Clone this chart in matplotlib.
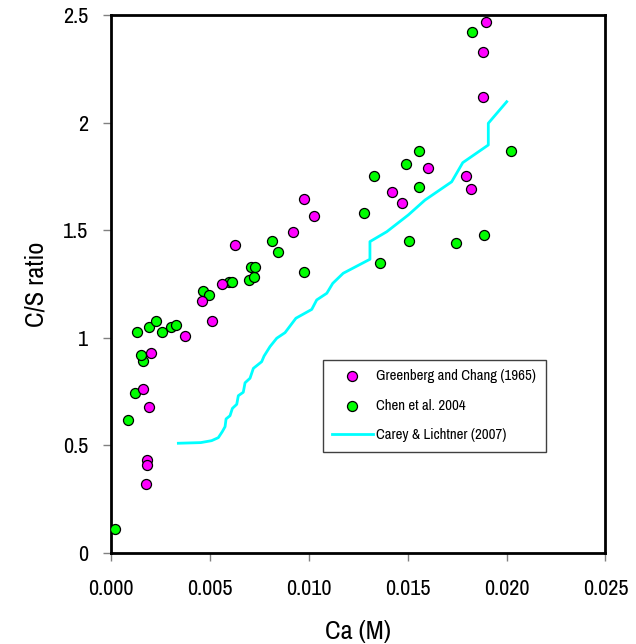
import matplotlib
matplotlib.use("Agg")
import matplotlib.pyplot as plt
from matplotlib.ticker import FixedLocator, FormatStrFormatter

plt.rcParams['font.family'] = ['Liberation Sans Narrow', 'Archivo Narrow', 'Liberation Sans', 'DejaVu Sans']

# ---------------------------------------------
# Data
# ---------------------------------------------
# Greenberg and Chang (1965)
greenberg_ca = [0.00163, 0.00192, 0.00205, 0.00185, 0.00185, 0.00178, 0.00377, 0.0051,
                0.0046, 0.00561, 0.0063, 0.0092, 0.00977, 0.01027, 0.01423, 0.01472,
                0.01605, 0.01797, 0.01819, 0.01881, 0.01883, 0.01897]
greenberg_cs = [0.762, 0.677, 0.931, 0.431, 0.41, 0.32, 1.01, 1.079,
                1.171, 1.248, 1.431, 1.492, 1.646, 1.567, 1.679, 1.628,
                1.789, 1.752, 1.691, 2.12, 2.33, 2.466]

# Chen et al. 2004
chen_ca = [0.00022, 0.00086, 0.00121, 0.00162, 0.00155, 0.00135, 0.00192, 0.00227,
           0.00261, 0.00303, 0.00328, 0.00468, 0.00497, 0.00598, 0.00613, 0.007,
           0.00722, 0.0071, 0.0073, 0.00815, 0.00844, 0.00978, 0.0128, 0.0133,
           0.01359, 0.01494, 0.01507, 0.01556, 0.01556, 0.01746, 0.01827, 0.01888,
           0.02024]
chen_cs = [0.11, 0.62, 0.742, 0.892, 0.918, 1.028, 1.049, 1.079,
           1.028, 1.049, 1.061, 1.217, 1.197, 1.261, 1.261, 1.269,
           1.281, 1.328, 1.328, 1.451, 1.399, 1.307, 1.581, 1.752,
           1.348, 1.809, 1.451, 1.868, 1.699, 1.439, 2.42, 1.476,
           1.868]

# Carey & Lichtner (2007) model curve
carey_ca = [0.00342, 0.00455, 0.0051, 0.00544, 0.00564, 0.00578, 0.00583, 0.00603,
            0.00615, 0.00637, 0.00645, 0.0067, 0.00679, 0.00704, 0.00721, 0.00763,
            0.00775, 0.00805, 0.00839, 0.00881, 0.00936, 0.01016, 0.01041, 0.01092,
            0.01122, 0.01175, 0.0131, 0.0131, 0.01395, 0.01504, 0.01588, 0.01723,
            0.01779, 0.01908, 0.01908, 0.02001]
carey_cs = [0.51, 0.513, 0.522, 0.536, 0.564, 0.587, 0.623, 0.638,
            0.672, 0.691, 0.731, 0.747, 0.791, 0.812, 0.858, 0.889,
            0.915, 0.959, 0.998, 1.024, 1.091, 1.132, 1.176, 1.207,
            1.253, 1.3, 1.365, 1.447, 1.493, 1.571, 1.64, 1.725,
            1.814, 1.896, 1.997, 2.097]

x_ticks = [0.0, 0.005, 0.010, 0.015, 0.020, 0.025]
y_ticks = [0, 0.5, 1, 1.5, 2, 2.5]
y_tick_labels = ["0", "0.5", "1", "1.5", "2", "2.5"]

# ---------------------------------------------
# Plot
# ---------------------------------------------
fig = plt.figure(figsize=(6.36, 6.44), dpi=100)
ax = fig.add_axes([0.174, 0.1413, 0.778, 0.8354])

line, = ax.plot(carey_ca, carey_cs, color="#00FFFF", lw=2.0, zorder=2,
                label="Carey & Lichtner (2007)")
chen = ax.scatter(chen_ca, chen_cs, s=52, c="#00FF00", edgecolors="black",
                  linewidths=0.9, zorder=3, label="Chen et al. 2004")
green = ax.scatter(greenberg_ca, greenberg_cs, s=52, c="#FF00FF", edgecolors="black",
                   linewidths=0.9, zorder=4, label="Greenberg and Chang (1965)")

ax.set_xlim(0, 0.025)
ax.set_ylim(0, 2.5)
ax.xaxis.set_major_locator(FixedLocator(x_ticks))
ax.xaxis.set_major_formatter(FormatStrFormatter("%.3f"))
ax.set_yticks(y_ticks)
ax.set_yticklabels(y_tick_labels)
ax.tick_params(axis="both", direction="out", length=6, width=1, color="#808080",
               labelsize=16)
ax.tick_params(axis="x", pad=13)
ax.tick_params(axis="y", pad=10)

for sp in ax.spines.values():
    sp.set_linewidth(2)
    sp.set_color("black")

ax.set_xlabel("Ca (M)", fontsize=19, labelpad=15)
ax.set_ylabel("C/S ratio", fontsize=19, labelpad=11)

leg = ax.legend(handles=[green, chen, line], loc="upper left",
                bbox_to_anchor=(0.4285, 0.3587), borderaxespad=0,
                fontsize=10.7, frameon=True, fancybox=False, framealpha=1,
                edgecolor="#404040", labelspacing=1.05, handlelength=2.75,
                handletextpad=0.25, borderpad=0.62, scatterpoints=1)
leg.get_frame().set_linewidth(1)

plt.savefig("out.png", dpi=100)
plt.close()
